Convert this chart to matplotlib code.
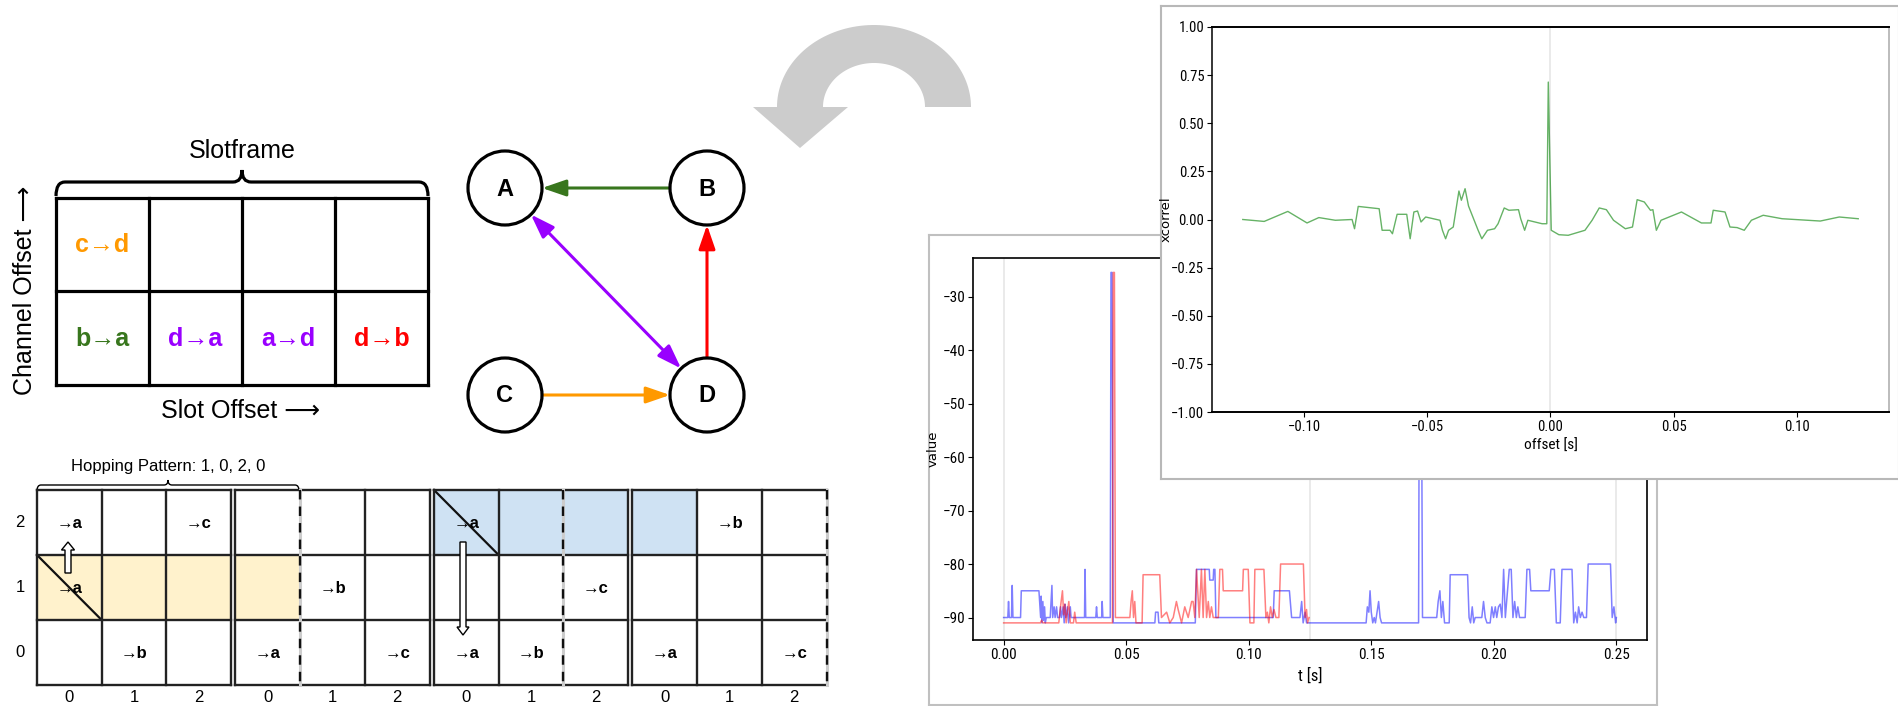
import os
import numpy as np
import matplotlib
matplotlib.use("Agg")
import matplotlib.pyplot as plt
from matplotlib import font_manager as fm
from matplotlib.patches import Rectangle, Circle, Polygon, FancyArrowPatch, FancyArrow, PathPatch
from matplotlib.path import Path

# --- data --- #

slot_text = ["c→d", "", "", "", "b→a", "d→a", "a→d", "d→b"]
slot_color = ["#ff9900", "k", "k", "k", "#38761d", "#9900ff", "#9900ff", "#ff0000"]

node_names = ["A", "B", "C", "D"]
edge_src = ["B", "D", "C", "A"]
edge_dst = ["A", "B", "D", "D"]
edge_color = ["#38761d", "#ff0000", "#ff9900", "#9900ff"]
edge_style = ["-|>", "-|>", "-|>", "<|-|>"]

hop_channels = [2, 1, 0]
hop_slot_labels = [0, 1, 2] * 4
hop_text = ["→a", "→c", "→a", "→b", "→a", "→b", "→c",
            "→b", "→a", "→c", "→a", "→b", "→a", "→c"]
hop_row = [2, 2, 2, 2, 1, 1, 1, 0, 0, 0, 0, 0, 0, 0]
hop_col = [0, 2, 6, 10, 0, 4, 8, 1, 3, 5, 6, 7, 9, 11]
shade_row = [1, 2]
shade_first = [0, 6]
shade_color = ["#fff2cc", "#cfe2f3"]
diag_row = [1, 2]
diag_col = [0, 6]
dashed_cols = [4, 8, 12]

# (t [s], value)
blue_trace = [
    (0.0000, -90), (0.0017, -90), (0.0020, -87), (0.0023, -90), (0.0032, -90), (0.0035, -84),
    (0.0038, -90), (0.0069, -90), (0.0072, -85), (0.0144, -85), (0.0151, -90), (0.0153, -86),
    (0.0156, -91), (0.0160, -87), (0.0163, -90.5), (0.0167, -88), (0.0170, -91), (0.0174, -90),
    (0.0190, -90), (0.0197, -84), (0.0200, -90), (0.0206, -88), (0.0210, -90), (0.0216, -88),
    (0.0220, -90), (0.0228, -90), (0.0232, -88), (0.0236, -90), (0.0243, -88), (0.0247, -91),
    (0.0250, -87.5), (0.0254, -90), (0.0260, -88), (0.0265, -91), (0.0272, -88), (0.0275, -90),
    (0.0330, -90), (0.0332, -81), (0.0335, -90), (0.0376, -90), (0.0379, -88), (0.0382, -90),
    (0.0400, -90), (0.0402, -87), (0.0405, -90), (0.0435, -90), (0.0438, -25.5), (0.0442, -25.5),
    (0.0447, -91), (0.0617, -91), (0.0620, -89), (0.0630, -89), (0.0633, -91), (0.0782, -91),
    (0.0787, -81), (0.0839, -81), (0.0841, -83), (0.0855, -83), (0.0857, -81), (0.0862, -81),
    (0.0866, -90), (0.1100, -90), (0.1104, -85), (0.1166, -85), (0.1175, -90), (0.1209, -90),
    (0.1216, -87), (0.1222, -91), (0.1230, -89), (0.1236, -91), (0.1479, -91), (0.1484, -88),
    (0.1490, -89), (0.1495, -85), (0.1500, -89), (0.1506, -91), (0.1512, -90), (0.1517, -91),
    (0.1530, -87), (0.1536, -90), (0.1542, -91), (0.1693, -91), (0.1697, -25), (0.1703, -25),
    (0.1709, -90), (0.1767, -90), (0.1773, -87), (0.1780, -85), (0.1786, -90), (0.1792, -87),
    (0.1799, -91), (0.1818, -91), (0.1822, -82), (0.1893, -82), (0.1899, -90), (0.1905, -91),
    (0.1912, -88), (0.1918, -91), (0.1924, -90), (0.1951, -90), (0.1958, -87), (0.1965, -90),
    (0.1972, -91), (0.1985, -91), (0.1992, -88), (0.1999, -90), (0.2006, -88), (0.2012, -90),
    (0.2019, -88), (0.2026, -87.5), (0.2033, -90), (0.2040, -81), (0.2047, -90), (0.2054, -86),
    (0.2063, -81), (0.2071, -81), (0.2078, -90), (0.2085, -87), (0.2092, -90), (0.2098, -88),
    (0.2105, -90), (0.2128, -90), (0.2135, -81), (0.2146, -81), (0.2151, -85), (0.2226, -85),
    (0.2233, -81), (0.2247, -81), (0.2255, -91), (0.2271, -91), (0.2278, -81), (0.2319, -81),
    (0.2326, -91), (0.2333, -89), (0.2340, -91), (0.2346, -88), (0.2353, -90), (0.2360, -89),
    (0.2367, -90), (0.2378, -90), (0.2385, -80), (0.2476, -80), (0.2483, -90), (0.2490, -88),
    (0.2497, -91), (0.2500, -90),
]

red_trace = [
    (0.0000, -91), (0.0150, -91), (0.0155, -90.5), (0.0160, -91), (0.0225, -91), (0.0232, -88),
    (0.0240, -85), (0.0245, -89.5), (0.0250, -87.5), (0.0255, -91), (0.0260, -89), (0.0266, -87),
    (0.0272, -91), (0.0285, -91), (0.0290, -89), (0.0296, -91), (0.0444, -91), (0.0447, -25.5),
    (0.0452, -25.5), (0.0456, -90), (0.0515, -90), (0.0520, -87), (0.0525, -85), (0.0530, -90),
    (0.0535, -87), (0.0540, -91), (0.0565, -91), (0.0569, -82), (0.0637, -82), (0.0644, -90),
    (0.0665, -89), (0.0678, -91), (0.0692, -90), (0.0705, -87), (0.0712, -88.5), (0.0726, -91),
    (0.0739, -88), (0.0753, -90), (0.0767, -87), (0.0773, -87), (0.0780, -90), (0.0787, -81),
    (0.0798, -90), (0.0807, -81), (0.0814, -90), (0.0821, -81), (0.0828, -90), (0.0835, -87),
    (0.0841, -90), (0.0848, -88), (0.0855, -90), (0.0876, -90), (0.0882, -81), (0.0893, -81),
    (0.0896, -85), (0.0975, -85), (0.0978, -81), (0.0998, -81), (0.1005, -91), (0.1021, -91),
    (0.1025, -81), (0.1062, -81), (0.1070, -90), (0.1076, -89), (0.1082, -91), (0.1089, -88),
    (0.1096, -90), (0.1103, -88.5), (0.1111, -90), (0.1123, -90), (0.1130, -80), (0.1223, -80),
    (0.1230, -90), (0.1236, -88.5), (0.1240, -91), (0.1246, -90),
]

# (offset [s], xcorrel)
xcorr_trace = [
    (-0.1250, 0.000), (-0.1163, -0.010), (-0.1067, 0.042), (-0.0989, -0.018), (-0.0941, 0.010),
    (-0.0874, -0.004), (-0.0806, 0.000), (-0.0796, -0.048), (-0.0781, 0.068), (-0.0696, 0.056),
    (-0.0684, -0.056), (-0.0652, -0.056), (-0.0642, -0.074), (-0.0623, 0.027), (-0.0584, 0.027),
    (-0.0570, -0.100), (-0.0555, 0.039), (-0.0540, 0.044), (-0.0526, -0.013), (-0.0507, 0.013),
    (-0.0449, -0.004), (-0.0439, -0.056), (-0.0426, -0.100), (-0.0414, -0.056), (-0.0395, -0.039),
    (-0.0372, 0.148), (-0.0362, 0.100), (-0.0347, 0.160), (-0.0333, 0.070), (-0.0294, -0.056),
    (-0.0279, -0.100), (-0.0256, -0.056), (-0.0227, -0.048), (-0.0213, -0.022), (-0.0188, 0.060),
    (-0.0169, 0.048), (-0.0130, 0.051), (-0.0121, 0.004), (-0.0105, -0.056), (-0.0092, -0.004),
    (-0.0063, -0.013), (-0.0034, -0.022), (-0.0015, -0.022), (-0.0009, 0.714), (0.0003, -0.056),
    (0.0034, -0.079), (0.0072, -0.082), (0.0140, -0.056), (0.0169, -0.004), (0.0198, 0.060),
    (0.0227, 0.051), (0.0256, -0.004), (0.0304, -0.048), (0.0333, -0.039), (0.0352, 0.103),
    (0.0381, 0.091), (0.0406, 0.048), (0.0416, 0.051), (0.0430, -0.056), (0.0449, -0.004),
    (0.0532, 0.039), (0.0613, -0.018), (0.0652, -0.018), (0.0661, 0.048), (0.0709, 0.039),
    (0.0729, -0.039), (0.0758, -0.042), (0.0787, -0.056), (0.0816, -0.004), (0.0864, 0.022),
    (0.0941, 0.004), (0.1096, -0.008), (0.1173, 0.013), (0.1250, 0.004),
]

# --- fonts --- #

SANS = ["Liberation Sans", "DejaVu Sans"]


def narrow_font():
    """pick a regular-weight condensed face for the screenshot plots if one is installed"""
    for fam in ["Roboto Condensed", "Liberation Sans Narrow", "DejaVu Sans Condensed",
                "Noto Sans Condensed"]:
        try:
            path = fm.findfont(fm.FontProperties(family=fam, weight="normal"), fallback_to_default=False)
        except ValueError:
            continue
        if "bold" not in os.path.basename(path).lower():
            return fam, True
    return "DejaVu Sans", False


PLOT_FONT, HAVE_NARROW = narrow_font()
plt.rcParams["font.family"] = [PLOT_FONT, "DejaVu Sans"]
TICK_B = 11 if HAVE_NARROW else 9
TICK_F = 10.5 if HAVE_NARROW else 8.5

# --- layout (pixels of the 1899 x 706 picture) --- #

W, H = 1899, 706


def fig_rect(x0, y0, x1, y1):
    return [x0 / W, 1 - y1 / H, (x1 - x0) / W, (y1 - y0) / H]


def brace(ax, x0, x1, y_end, y_bar, y_tip, r, lw):
    xm = (x0 + x1) / 2
    verts = [(x0, y_end), (x0, y_bar), (x0 + r, y_bar), (xm - r, y_bar), (xm, y_bar), (xm, y_tip),
             (xm, y_bar), (xm + r, y_bar), (x1 - r, y_bar), (x1, y_bar), (x1, y_end)]
    codes = [Path.MOVETO, Path.CURVE3, Path.CURVE3, Path.LINETO, Path.CURVE3, Path.CURVE3,
             Path.CURVE3, Path.CURVE3, Path.LINETO, Path.CURVE3, Path.CURVE3]
    ax.add_patch(PathPatch(Path(verts, codes), fc="none", ec="black", lw=lw))


fig = plt.figure(figsize=(W / 100, H / 100), dpi=100)
ax = fig.add_axes([0, 0, 1, 1])
ax.set_xlim(0, W)
ax.set_ylim(H, 0)
ax.axis("off")

# slotframe table
tab_x = np.linspace(56, 428, 5)
tab_y = [198, 291, 385]
for x in tab_x:
    ax.plot([x, x], [tab_y[0], tab_y[-1]], color="black", lw=2.3, solid_capstyle="projecting")
for y in tab_y:
    ax.plot([tab_x[0], tab_x[-1]], [y, y], color="black", lw=2.3, solid_capstyle="projecting")
for i, (s, c) in enumerate(zip(slot_text, slot_color)):
    r, k = divmod(i, 4)
    ax.text((tab_x[k] + tab_x[k + 1]) / 2, (tab_y[r] + tab_y[r + 1]) / 2 + 1, s, color=c,
            fontsize=18, fontweight="bold", ha="center", va="center", family=SANS)
brace(ax, 56, 428, 196, 182, 170, 9, 2.3)
ax.text(242, 151, "Slotframe", fontsize=18, ha="center", va="center", family=SANS)
ax.text(25, 290, "Channel Offset ⟶", fontsize=18, rotation=90, ha="center", va="center", family=SANS)
ax.text(241, 411, "Slot Offset ⟶", fontsize=18, ha="center", va="center", family=SANS)

# node graph
node_xy = {"A": (505, 188), "B": (707, 188), "C": (505, 395), "D": (707, 395)}
R = 37
for n in node_names:
    x, y = node_xy[n]
    ax.add_patch(Circle((x, y), R, fc="white", ec="black", lw=2.3, zorder=3))
    ax.text(x, y + 1, n, fontsize=17, fontweight="bold", ha="center", va="center", family=SANS, zorder=4)
for s, d, c, st in zip(edge_src, edge_dst, edge_color, edge_style):
    p0 = np.array(node_xy[s], float)
    p1 = np.array(node_xy[d], float)
    u = (p1 - p0) / np.linalg.norm(p1 - p0)
    ax.add_patch(FancyArrowPatch(tuple(p0 + R * u), tuple(p1 - R * u),
                                 arrowstyle=st + ",head_length=1.45,head_width=0.5",
                                 mutation_scale=10, color=c, lw=2.2, shrinkA=0, shrinkB=0, zorder=2))

# curved grey arrow
th = np.linspace(0, np.pi, 80)
outer = np.c_[874 + 97 * np.cos(th), 107 - 82 * np.sin(th)]
inner = np.c_[874 + 51 * np.cos(th[::-1]), 107 - 44 * np.sin(th[::-1])]
head = np.array([(753, 107), (800, 148), (848, 107)])
ax.add_patch(Polygon(np.vstack([outer, head, inner]), closed=True, fc="#cccccc", ec="none"))

# hopping grid
gx0, blk_step, col_w = 37, 198.5, 64.67
row_top = {2: 490, 1: 555, 0: 620}
row_h = 65


def col_left(g):
    return gx0 + (g // 3) * blk_step + (g % 3) * col_w


for r, g0, c in zip(shade_row, shade_first, shade_color):
    for g in range(g0, g0 + 4):
        ax.add_patch(Rectangle((col_left(g), row_top[r]), col_w, row_h, fc=c, ec="none", zorder=1))
for r, g in zip(diag_row, diag_col):
    ax.plot([col_left(g), col_left(g) + col_w], [row_top[r], row_top[r] + row_h],
            color="#111111", lw=1.6, zorder=2)
for b in range(4):
    xs = gx0 + b * blk_step + np.arange(4) * col_w
    for y in [490, 555, 620, 685]:
        ax.plot([xs[0], xs[-1]], [y, y], color="#222222", lw=1.7, zorder=3)
    for k, x in enumerate(xs):
        if b * 3 + k in dashed_cols:
            ax.plot([x, x], [490, 685], color="#cccccc", lw=2.2, zorder=3)
            ax.plot([x, x], [490, 685], color="#111111", lw=1.7, ls=(0, (4, 3)), zorder=4)
        else:
            ax.plot([x, x], [490, 685], color="#222222", lw=1.7, zorder=3)
for s, r, g in zip(hop_text, hop_row, hop_col):
    ax.text(col_left(g) + col_w / 2, row_top[r] + row_h / 2 + 1, s, fontsize=12, fontweight="bold",
            ha="center", va="center", family=SANS, zorder=3)
for r in hop_channels:
    ax.text(20, row_top[r] + row_h / 2, str(r), fontsize=12, ha="center", va="center", family=SANS)
for g, lab in enumerate(hop_slot_labels):
    ax.text(col_left(g) + col_w / 2, 697, str(lab), fontsize=12, ha="center", va="center", family=SANS)
brace(ax, 37, 299, 491, 485, 480, 4, 1.0)
ax.text(168, 467, "Hopping Pattern: 1, 0, 2, 0", fontsize=12, ha="center", va="center", family=SANS)
ax.add_patch(FancyArrow(68, 573, 0, -31, width=6, head_width=13, head_length=8,
                        length_includes_head=True, fc="white", ec="black", lw=1, zorder=5))
ax.add_patch(FancyArrow(463, 542, 0, 93, width=6, head_width=12, head_length=8,
                        length_includes_head=True, fc="white", ec="black", lw=1, zorder=5))

# back screenshot: time series
bf = fig.add_axes(fig_rect(929, 235, 1657, 705))
bf.set_xticks([])
bf.set_yticks([])
for sp in bf.spines.values():
    sp.set_color("#c0c0c0")
    sp.set_linewidth(1.5)

axb = fig.add_axes(fig_rect(973, 258, 1647, 640))
bt, bv = zip(*blue_trace)
rt, rv = zip(*red_trace)
for xv in [0.0, 0.125, 0.25]:
    axb.axvline(xv, color="#e4e4e4", lw=1.1, zorder=0)
axb.plot(bt, bv, color="blue", alpha=0.5, lw=1.1)
axb.plot(rt, rv, color="red", alpha=0.5, lw=1.1)
axb.set_xlim(-0.0125, 0.2625)
axb.set_ylim(-94.2, -22.8)
axb.set_xticks([0.0, 0.05, 0.10, 0.15, 0.20, 0.25])
axb.set_yticks([-30, -40, -50, -60, -70, -80, -90])
axb.tick_params(labelsize=TICK_B, pad=2)
axb.set_xlabel("t [s]", fontsize=TICK_B + 1)
axb.set_ylabel("value", fontsize=9.5, family="DejaVu Sans")
axb.yaxis.set_label_coords(-0.05, 0.5)
for sp in axb.spines.values():
    sp.set_linewidth(1.2)

# front screenshot: cross-correlation
ff = fig.add_axes(fig_rect(1161, 6, 1899, 479))
ff.set_xticks([])
ff.set_yticks([])
for sp in ff.spines.values():
    sp.set_color("#b8b8b8")
    sp.set_linewidth(1.5)

axf = fig.add_axes(fig_rect(1212, 27, 1889, 412))
lt, lv = zip(*xcorr_trace)
axf.axvline(0, color="#e6e6e6", lw=1.2, zorder=0)
axf.plot(lt, lv, color="green", alpha=0.6, lw=1.0)
axf.set_xlim(-0.1375, 0.1375)
axf.set_ylim(-1.0, 1.0)
axf.set_xticks([-0.10, -0.05, 0.0, 0.05, 0.10])
axf.set_yticks([1.0, 0.75, 0.5, 0.25, 0.0, -0.25, -0.5, -0.75, -1.0])
axf.tick_params(labelsize=TICK_F, pad=2)
axf.set_xlabel("offset [s]", fontsize=TICK_F + 0.5)
axf.set_ylabel("xcorrel", fontsize=9.5, family="DejaVu Sans")
axf.yaxis.set_label_coords(-0.058, 0.5)
for name, sp in axf.spines.items():
    sp.set_linewidth(1.4 if name in ("top", "bottom") else 1.1)
axf.spines["right"].set_color("#aaaaaa")

fig.savefig("out.png", dpi=100)
